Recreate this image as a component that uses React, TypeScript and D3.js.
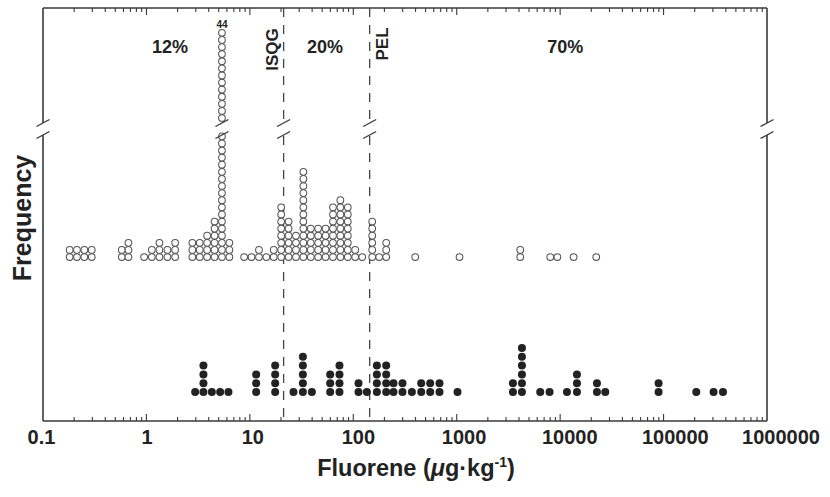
import React from 'react';
import * as d3 from 'd3';

// Open circles (upper dot plot): concentration of each column and number of stacked dots
const openConc = [0.181, 0.213, 0.251, 0.296, 0.578, 0.67, 0.95, 1.128, 1.336, 1.596, 1.895, 2.779, 3.277, 3.864, 4.557, 5.373, 6.336, 8.81, 10.38, 12.25, 14.44, 17.02, 20.08, 23.68, 27.91, 32.91, 38.81, 45.76, 53.96, 63.63, 75.03, 88.48, 104.3, 122, 152.4, 178, 208, 397, 1064, 4113, 8020, 9400, 13490, 22340];
const openCount = [2, 2, 2, 2, 2, 3, 1, 2, 3, 2, 3, 3, 3, 4, 6, 44, 3, 1, 1, 2, 1, 2, 8, 6, 4, 13, 5, 5, 5, 8, 9, 8, 2, 1, 6, 1, 3, 1, 1, 2, 1, 1, 1, 1];

// Filled circles (lower dot plot)
const filledConc = [2.958, 3.558, 4.29, 5.161, 6.209, 11.51, 17.57, 26.41, 32.55, 39.77, 59.78, 73.54, 112.3, 135.3, 169.1, 208.0, 244.7, 299.1, 368.7, 453.6, 554.1, 681.7, 1018, 3496, 4272, 6418, 7900, 11640, 14540, 22700, 27310, 89480, 207100, 304500, 375400];
const filledCount = [1, 4, 1, 1, 1, 3, 4, 1, 5, 1, 3, 4, 2, 1, 4, 4, 2, 2, 1, 2, 2, 2, 1, 2, 6, 1, 1, 1, 3, 2, 1, 2, 1, 1, 1];

const tickValues = [0.1, 1, 10, 100, 1000, 10000, 100000, 1000000];
const tickLabels = ['0.1', '1', '10', '100', '1000', '10000', '100000', '1000000'];

const guidelineValues = [21.2, 144];
const guidelineNames = ['ISQG', 'PEL'];

const zoneLabels = ['12%', '20%', '70%'];
const zoneAt = [1.69, 53.3, 11200];

const FONT = "'Liberation Sans', Arial, Helvetica, sans-serif";

export default function App() {
  const W = 830, H = 497;
  const left = 43, right = 767, top = 8, bottom = 421;
  const b1 = 123, b2 = 135;
  const x = d3.scaleLog().domain([0.1, 1e6]).range([left, right]);
  const xLabel = d3.scaleLog().domain([0.1, 1e6]).range([41.5, 781]);
  const yOpen = d3.scaleLinear().domain([0, 17, 31, 43]).range([257, 136.3, 118, 32.8]);
  const yFilled = d3.scaleLinear().domain([0, 1]).range([392, 383.2]);
  const axisColor = '#3a3a3a';

  const minor: number[] = [];
  const major: number[] = [];
  for (let d = -1; d <= 5; d++) {
    if (d > -1) major.push(Math.pow(10, d));
    for (let m = 2; m <= 9; m++) minor.push(m * Math.pow(10, d));
  }

  const breakMark = (cx: number, key: string) => (
    <g key={key} stroke={axisColor} strokeWidth={1.4}>
      <line x1={cx - 6.5} y1={b1 + 3.5} x2={cx + 6.5} y2={b1 - 3.5} />
      <line x1={cx - 6.5} y1={b2 + 3.5} x2={cx + 6.5} y2={b2 - 3.5} />
    </g>
  );

  const openDots: JSX.Element[] = [];
  openConc.forEach((v, i) => {
    const n = openCount[i];
    for (let r = 0; r < n; r++) {
      if (n > 20 && r > 17 && r < n - 13) continue;
      openDots.push(
        <circle key={`o${i}-${r}`} cx={x(v)} cy={yOpen(r)} r={3.35}
          fill="#fff" stroke="#555" strokeWidth={1.05} />
      );
    }
  });

  const filledDots: JSX.Element[] = [];
  filledConc.forEach((v, i) => {
    for (let r = 0; r < filledCount[i]; r++) {
      filledDots.push(
        <circle key={`f${i}-${r}`} cx={x(v)} cy={yFilled(r)} r={4} fill="#222" />
      );
    }
  });

  const tallIdx = openCount.indexOf(44);

  return (
    <svg width={W} height={H} style={{ position: 'absolute', left: 0, top: 0, background: '#fff' }}
      fontFamily={FONT}>
      {/* guideline dashed lines */}
      {guidelineValues.map((g, i) => (
        <g key={`g${i}`} stroke="#444" strokeWidth={1.3} strokeDasharray="9,8">
          <line x1={x(g)} x2={x(g)} y1={top} y2={b1 - 1} />
          <line x1={x(g)} x2={x(g)} y1={b2 + 1} y2={bottom} />
        </g>
      ))}
      {guidelineValues.map((g, i) => breakMark(x(g), `gb${i}`))}

      {/* frame */}
      <g stroke={axisColor} strokeWidth={1.6} fill="none">
        <line x1={left} x2={right} y1={top} y2={top} />
        <line x1={left} x2={right} y1={bottom} y2={bottom} />
        <line x1={left} x2={left} y1={top} y2={b1} />
        <line x1={left} x2={left} y1={b2} y2={bottom} />
        <line x1={right} x2={right} y1={top} y2={b1} />
        <line x1={right} x2={right} y1={b2} y2={bottom} />
      </g>
      {breakMark(left, 'lb')}
      {breakMark(right, 'rb')}

      {/* ticks */}
      <g stroke={axisColor} strokeWidth={1.1}>
        {minor.map((v, i) => (
          <g key={`mi${i}`}>
            <line x1={x(v)} x2={x(v)} y1={bottom} y2={bottom - 4} />
            <line x1={x(v)} x2={x(v)} y1={top} y2={top + 4} />
          </g>
        ))}
        {major.map((v, i) => (
          <g key={`ma${i}`}>
            <line x1={x(v)} x2={x(v)} y1={bottom} y2={bottom - 7} />
            <line x1={x(v)} x2={x(v)} y1={top} y2={top + 7} />
          </g>
        ))}
      </g>

      {/* dots */}
      {openDots}
      {breakMark(x(openConc[tallIdx]), 'tb')}
      {filledDots}

      {/* tick labels */}
      <g fontWeight="bold" fontSize={20} fill="#222" textAnchor="middle">
        {tickValues.map((v, i) => (
          <text key={`tl${i}`} x={xLabel(v)} y={444}>{tickLabels[i]}</text>
        ))}
      </g>

      {/* annotations */}
      <text x={x(openConc[tallIdx])} y={28} fontSize={10} fontWeight="bold" textAnchor="middle" fill="#222">44</text>
      {zoneLabels.map((t, i) => (
        <text key={`z${i}`} x={x(zoneAt[i])} y={53} fontSize={18} fontWeight="bold" textAnchor="middle" fill="#222">{t}</text>
      ))}
      <text transform={`translate(${x(guidelineValues[0]) - 5.5},49.5) rotate(-90)`} fontSize={17} fontWeight="bold" textAnchor="middle" fill="#222">{guidelineNames[0]}</text>
      <text transform={`translate(${x(guidelineValues[1]) + 18.5},44) rotate(-90)`} fontSize={17} fontWeight="bold" textAnchor="middle" fill="#222">{guidelineNames[1]}</text>

      {/* axis titles */}
      <text transform="translate(31,218) rotate(-90)" fontSize={25} fontWeight="bold" textAnchor="middle" fill="#222">Frequency</text>
      <text x={416} y={476} fontSize={23.5} fontWeight="bold" textAnchor="middle" fill="#222">
        Fluorene (<tspan fontStyle="italic">μ</tspan>g·kg<tspan dy={-9} fontSize={14}>-1</tspan><tspan dy={9}>)</tspan>
      </text>
    </svg>
  );
}
